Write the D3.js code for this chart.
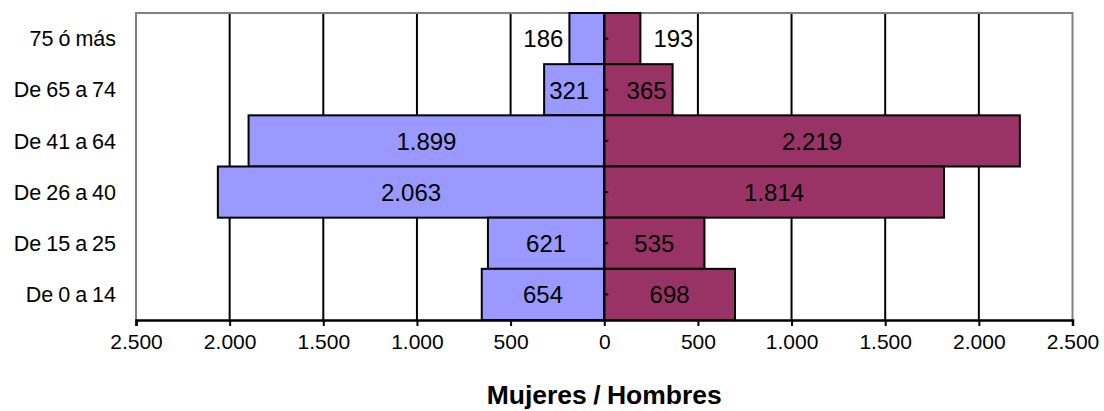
<!DOCTYPE html>
<html><head><meta charset="utf-8">
<script src="https://cdn.jsdelivr.net/npm/d3@7"></script>
<style>body{margin:0;background:#fff;}svg{display:block;}text{font-family:"Liberation Sans",Arial,sans-serif;fill:#000;}</style>
</head><body>
<script>
const categories = ["75 ó más","De 65 a 74","De 41 a 64","De 26 a 40","De 15 a 25","De 0 a 14"];
const mujeres = [186, 321, 1899, 2063, 621, 654];
const hombres = [193, 365, 2219, 1814, 535, 698];
const tickValues = [-2500,-2000,-1500,-1000,-500,0,500,1000,1500,2000,2500];
const axisTitle = "Mujeres / Hombres";

const W = 1104, H = 411;
const mLeft = 136, mRight = 1072.5, mTop = 13, mBottom = 320;
const fmt = v => d3.format(",")(Math.abs(v)).replace(/,/g, ".");

const svg = d3.select("body").append("svg").attr("width", W).attr("height", H);
const x = d3.scaleLinear().domain([-2500, 2500]).range([mLeft, mRight]);
const y = d3.scaleBand().domain(categories).range([mTop, mBottom]).padding(0);

// gridlines
svg.append("g").selectAll("line").data(tickValues.filter(v => v > -2500 && v < 2500)).join("line")
  .attr("x1", d => x(d)).attr("x2", d => x(d)).attr("y1", mTop).attr("y2", mBottom)
  .attr("stroke", "#000").attr("stroke-width", 2);

// plot border (gray)
svg.append("path").attr("d", `M${mLeft},${mBottom}V${mTop}H${mRight}V${mBottom}`)
  .attr("fill", "none").attr("stroke", "#808080").attr("stroke-width", 2);

// bars
const rows = categories.map((c, i) => ({c, m: mujeres[i], h: hombres[i]}));
svg.append("g").selectAll("rect").data(rows).join("rect")
  .attr("x", d => x(-d.m)).attr("width", d => x(0) - x(-d.m))
  .attr("y", d => y(d.c)).attr("height", y.bandwidth())
  .attr("fill", "#9999ff").attr("stroke", "#000").attr("stroke-width", 2);
svg.append("g").selectAll("rect").data(rows).join("rect")
  .attr("x", x(0)).attr("width", d => x(d.h) - x(0))
  .attr("y", d => y(d.c)).attr("height", y.bandwidth())
  .attr("fill", "#993366").attr("stroke", "#000").attr("stroke-width", 2);

// zero axis with small ticks at category centers
svg.append("line").attr("x1", x(0)).attr("x2", x(0)).attr("y1", mTop).attr("y2", mBottom)
  .attr("stroke", "#000").attr("stroke-width", 2);
svg.append("g").selectAll("line").data(categories).join("line")
  .attr("x1", x(0)).attr("x2", x(0) + 4)
  .attr("y1", d => y(d) + y.bandwidth()/2).attr("y2", d => y(d) + y.bandwidth()/2)
  .attr("stroke", "#000").attr("stroke-width", 2);

// bottom axis
const xAxis = d3.axisBottom(x).tickValues(tickValues).tickSize(6).tickPadding(10).tickFormat(fmt);
const gx = svg.append("g").attr("transform", `translate(0,${mBottom})`).call(xAxis);
gx.select(".domain").attr("stroke", "#000").attr("stroke-width", 2.5);
gx.selectAll(".tick line").attr("stroke", "#000").attr("stroke-width", 2);
gx.selectAll(".tick text").style("font-size", "21px").attr("dy", "0.6em");

// category labels
svg.append("g").selectAll("text").data(categories).join("text")
  .attr("x", 116).attr("y", d => y(d) + y.bandwidth()/2).attr("dy", "0.36em")
  .attr("text-anchor", "end").style("font-size", "21.5px").style("word-spacing", "-1px").text(d => d);

// value labels
const labelSize = 24;
function addLabels(vals, side) {
  svg.append("g").selectAll("text").data(vals).join("text")
    .each(function(v, i) {
      const t = d3.select(this);
      const barW = Math.abs(x(side * v) - x(0));
      const tw = String(fmt(v)).length * labelSize * 0.54;
      const cy = y(categories[i]) + y.bandwidth()/2;
      t.attr("y", cy).attr("dy", "0.37em").style("font-size", labelSize + "px").text(fmt(v));
      if (barW < tw + 8) {
        if (side < 0) t.attr("x", x(-v) - 6).attr("text-anchor", "end");
        else t.attr("x", x(v) + 13).attr("text-anchor", "start");
      } else if (barW < tw * 1.8) {
        if (side < 0) t.attr("x", x(-v) + 5).attr("text-anchor", "start");
        else t.attr("x", x(v) - 6).attr("text-anchor", "end");
      } else {
        t.attr("x", x(side * v / 2)).attr("text-anchor", "middle");
      }
    });
}
addLabels(mujeres, -1);
addLabels(hombres, 1);

// axis title
svg.append("text").attr("x", x(0)).attr("y", 404).attr("text-anchor", "middle")
  .style("font-size", "26.5px").style("font-weight", "bold").style("word-spacing", "-1px").text(axisTitle);
</script>
</body></html>
